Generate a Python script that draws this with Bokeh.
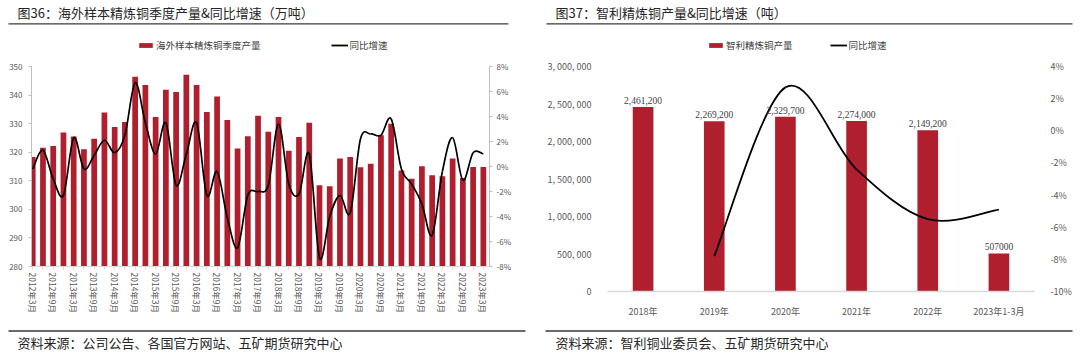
import math
from bokeh.plotting import figure
from bokeh.models import (ColumnDataSource, Range1d, LinearAxis, FixedTicker,
                          PrintfTickFormatter, Label, BoxAnnotation, Legend,
                          LegendItem, LabelSet)
from bokeh.layouts import row, column
from bokeh.embed import file_html
from bokeh.resources import INLINE

FONT = "Noto Sans CJK SC"
BAR_COLOR = "#B01F2D"
TXT = "#404040"
AX_TXT = "#595959"
W = 540
HEAD_H = 58
FOOT_H = 34
CHART_H = 354 - HEAD_H - FOOT_H

# ---------------- 图36 data ----------------
quarters_36 = [f"{y}年{m}月" for y in range(2012, 2024) for m in (3, 6, 9, 12)][:45]
output_36 = [318.3, 321.6, 322.2, 326.9, 325.5, 321.0, 324.7, 333.9, 328.8, 330.6,
             346.4, 343.5, 332.3, 341.9, 341.1, 347.1, 343.5, 334.1, 339.5, 331.3,
             321.3, 325.6, 332.8, 327.2, 332.3, 320.5, 325.3, 330.3, 308.4, 308.1,
             317.8, 318.3, 314.7, 316.0, 325.9, 330.0, 313.6, 310.7, 315.1, 311.9,
             311.6, 317.8, 311.0, 314.8, 314.8]
yoy_36 = [-0.2, 1.3, -1.0, -2.3, 2.3, -0.2, 0.9, 2.1, 1.1, 2.5,
          6.7, 3.5, 1.0, 3.5, -1.5, 1.0, 3.5, -2.3, -0.4, -4.1,
          -6.5, -2.3, -2.0, -1.5, 3.4, -1.4, -2.2, 1.0, -7.3, -4.0,
          -2.3, -3.7, 2.2, 2.6, 2.5, 3.8, -0.2, -1.4, -3.0, -5.5,
          -0.4, 2.3, -1.1, 1.1, 1.0]
left_ticks_36 = [280, 290, 300, 310, 320, 330, 340, 350]
right_ticks_36 = [-8, -6, -4, -2, 0, 2, 4, 6, 8]

# ---------------- 图37 data ----------------
years_37 = ["2018年", "2019年", "2020年", "2021年", "2022年", "2023年1-3月"]
output_37 = [2461200, 2269200, 2329700, 2274000, 2149200, 507000]
yoy_37 = [None, -7.8, 2.7, -2.4, -5.5, -4.9]
left_ticks_37 = [0, 500000, 1000000, 1500000, 2000000, 2500000, 3000000]
right_ticks_37 = [-10, -8, -6, -4, -2, 0, 2, 4]


def smooth_segments(xs, ys):
    """Bezier segments through the data points (Excel-like smoothed line)."""
    pts = [(x, y) for x, y in zip(xs, ys) if y is not None]
    n = len(pts)
    d = dict(x0=[], y0=[], x1=[], y1=[], cx0=[], cy0=[], cx1=[], cy1=[])
    for i in range(n - 1):
        p0 = pts[max(i - 1, 0)]
        p1 = pts[i]
        p2 = pts[i + 1]
        p3 = pts[min(i + 2, n - 1)]
        d["x0"].append(p1[0]); d["y0"].append(p1[1])
        d["x1"].append(p2[0]); d["y1"].append(p2[1])
        d["cx0"].append(p1[0] + (p2[0] - p0[0]) / 6.0)
        d["cy0"].append(p1[1] + (p2[1] - p0[1]) / 6.0)
        d["cx1"].append(p2[0] - (p3[0] - p1[0]) / 6.0)
        d["cy1"].append(p2[1] - (p3[1] - p1[1]) / 6.0)
    return d


def blank_fig(h):
    f = figure(width=W, height=h, x_range=Range1d(0, W), y_range=Range1d(h, 0),
               output_backend="svg", toolbar_location=None, title=None,
               x_axis_location=None, y_axis_location=None,
               min_border_left=0, min_border_right=0, min_border_top=0, min_border_bottom=0)
    f.xgrid.visible = False
    f.ygrid.visible = False
    f.outline_line_color = None
    f.background_fill_color = "white"
    f.border_fill_color = "white"
    return f


def rule(f, x0, x1, y):
    f.add_layout(BoxAnnotation(left=x0, right=x1, top=y - 0.65, bottom=y + 0.65,
                               fill_color="#3a3a3a", fill_alpha=1.0, line_color=None))


def header(title, text_x, rule_x0, rule_x1, legend_labels, legend_x, spacing, src_bar, src_line):
    f = blank_fig(HEAD_H)
    f.add_layout(Label(x=text_x, y=12, text=title, text_font=FONT, text_font_size="13px",
                       text_color="#262626", text_baseline="middle", text_align="left"))
    rule(f, rule_x0, rule_x1, 23.3)
    # legend keys: the same series, styled as in the chart, mapped to an off-view range
    f.extra_y_ranges = {"off": Range1d(1e9, 1e9 + 1)}
    r_bar = f.vbar(x="x", top="v", bottom=0, width=0.5, source=src_bar,
                   fill_color=BAR_COLOR, line_color=None, y_range_name="off")
    r_line = f.line(x="x", y="y", source=src_line, line_color="black", line_width=1.8,
                    y_range_name="off")
    lg = Legend(items=[LegendItem(label=legend_labels[0], renderers=[r_bar]),
                       LegendItem(label=legend_labels[1], renderers=[r_line])],
                orientation="horizontal", location=(legend_x, HEAD_H - 52),
                label_text_font=FONT, label_text_font_size="9.5px", label_text_color=TXT,
                glyph_width=17, glyph_height=6, label_standoff=2, spacing=spacing,
                padding=0, margin=0, border_line_color=None, background_fill_alpha=0,
                label_height=12)
    f.add_layout(lg, "center")
    return f


def footer(text, text_x, rule_x0, rule_x1):
    f = blank_fig(FOOT_H)
    top = 354 - FOOT_H
    rule(f, rule_x0, rule_x1, 330.5 - top)
    f.add_layout(Label(x=text_x, y=342 - top, text=text, text_font=FONT, text_font_size="13px",
                       text_color="#262626", text_baseline="middle", text_align="left"))
    return f


# ======================= 图36 =======================
xs36 = list(range(1, len(quarters_36) + 1))
src36 = ColumnDataSource(dict(x=xs36, q=quarters_36, v=output_36))
line_src36 = ColumnDataSource(dict(x=xs36, y=yoy_36))
p1 = figure(width=W, height=CHART_H, x_range=Range1d(0.88, 45.6), y_range=Range1d(280, 350),
            output_backend="svg", toolbar_location=None, title=None,
            min_border_left=31, min_border_right=51, min_border_top=66 - HEAD_H,
            min_border_bottom=(354 - FOOT_H) - 266)
p1.extra_y_ranges = {"pct": Range1d(-8, 8)}
bars36 = p1.vbar(x="x", top="v", bottom=280, width=0.56, source=src36,
                 fill_color=BAR_COLOR, line_color=None)
line36 = p1.bezier(source=ColumnDataSource(smooth_segments(xs36, yoy_36)),
                   x0="x0", y0="y0", x1="x1", y1="y1", cx0="cx0", cy0="cy0", cx1="cx1", cy1="cy1",
                   line_color="black", line_width=1.7, y_range_name="pct")
ax_r36 = LinearAxis(y_range_name="pct")
p1.add_layout(ax_r36, "right")

p1.xgrid.visible = False
p1.ygrid.visible = False
p1.outline_line_color = None
p1.background_fill_color = None
p1.border_fill_color = "white"

xa = p1.xaxis[0]
xa.ticker = FixedTicker(ticks=xs36)
xa.major_label_overrides = {i: (q if q.endswith("3月") or q.endswith("9月") else "")
                            for i, q in zip(xs36, quarters_36)}
xa.major_label_orientation = -math.pi / 2
xa.axis_line_color = "#d9d9d9"
xa.major_tick_line_color = "#d9d9d9"
xa.major_tick_out = 3
xa.major_tick_in = 0
xa.minor_tick_line_color = None
xa.major_label_standoff = 3
xa.major_label_text_font = FONT
xa.major_label_text_font_size = "8.5px"
xa.major_label_text_color = AX_TXT

ya = p1.yaxis[0]
ya.ticker = FixedTicker(ticks=left_ticks_36)
for a in (ya, ax_r36):
    a.axis_line_color = "#bfbfbf"
    a.major_tick_line_color = "#bfbfbf"
    a.major_tick_out = 3
    a.major_tick_in = 0
    a.minor_tick_line_color = None
    a.major_label_text_font = FONT
    a.major_label_text_font_size = "8px"
    a.major_label_text_color = AX_TXT
ya.major_label_standoff = 6
ax_r36.ticker = FixedTicker(ticks=right_ticks_36)
ax_r36.formatter = PrintfTickFormatter(format="%d%%")
ax_r36.major_label_standoff = 4

h1 = header("图36：海外样本精炼铜季度产量&同比增速（万吨）", 17, 8, 508,
            ["海外样本精炼铜季度产量", "同比增速"], 137, 70, src36, line_src36)
f1 = footer("资料来源：公司公告、各国官方网站、五矿期货研究中心", 17, 8, 525)

# ======================= 图37 =======================
xs37 = [i + 0.5 for i in range(len(years_37))]
labels_37 = [f"{v:,}" for v in output_37[:-1]] + [str(output_37[-1])]
src37 = ColumnDataSource(dict(x=xs37, v=output_37, lab=labels_37))
line_src37 = ColumnDataSource(dict(x=xs37[1:], y=yoy_37[1:]))
p2 = figure(width=W, height=CHART_H, x_range=Range1d(0, 6), y_range=Range1d(0, 3000000),
            output_backend="svg", toolbar_location=None, title=None,
            min_border_left=67, min_border_right=46, min_border_top=66 - HEAD_H,
            min_border_bottom=(354 - FOOT_H) - 299)
p2.extra_y_ranges = {"pct": Range1d(-10, 4)}
bars37 = p2.vbar(x="x", top="v", bottom=0, width=0.29, source=src37,
                 fill_color=BAR_COLOR, line_color=None)
line37 = p2.bezier(source=ColumnDataSource(smooth_segments(xs37, yoy_37)),
                   x0="x0", y0="y0", x1="x1", y1="y1", cx0="cx0", cy0="cy0", cx1="cx1", cy1="cy1",
                   line_color="black", line_width=1.8, y_range_name="pct")
p2.add_layout(LabelSet(x="x", y="v", text="lab", source=src37, y_offset=3,
                       text_align="center", text_baseline="bottom", text_font=FONT,
                       text_font_size="9.5px", text_color=TXT))
ax_r37 = LinearAxis(y_range_name="pct")
p2.add_layout(ax_r37, "right")

p2.xgrid.visible = False
p2.ygrid.visible = False
p2.outline_line_color = None
p2.background_fill_color = None
p2.border_fill_color = "white"

xb = p2.xaxis[0]
xb.ticker = FixedTicker(ticks=xs37)
xb.major_label_overrides = {x: y for x, y in zip(xs37, years_37)}
xb.axis_line_color = "#d9d9d9"
xb.axis_line_width = 1.5
xb.major_tick_line_color = None
xb.minor_tick_line_color = None
xb.major_label_standoff = 7
xb.major_label_text_font = FONT
xb.major_label_text_font_size = "9px"
xb.major_label_text_color = AX_TXT

yb = p2.yaxis[0]
yb.ticker = FixedTicker(ticks=left_ticks_37)
yb.major_label_overrides = {t: f"{t:,}".replace(",", ", ") for t in left_ticks_37}
ax_r37.ticker = FixedTicker(ticks=right_ticks_37)
ax_r37.formatter = PrintfTickFormatter(format="%d%%")
for a in (yb, ax_r37):
    a.axis_line_color = None
    a.major_tick_line_color = None
    a.minor_tick_line_color = None
    a.major_label_text_font = FONT
    a.major_label_text_font_size = "9px"
    a.major_label_text_color = AX_TXT
yb.major_label_standoff = 10
ax_r37.major_label_standoff = 10

h2 = header("图37：智利精炼铜产量&同比增速（吨）", 15, 6, 532,
            ["智利精炼铜产量", "同比增速"], 707 - 540, 37, src37, line_src37)
f2 = footer("资料来源：智利铜业委员会、五矿期货研究中心", 15, 5, 532)

layout = row(column(row(h1), p1, row(f1), spacing=0),
             column(row(h2), p2, row(f2), spacing=0), spacing=0)
open("out.html", "w").write(file_html(layout, INLINE))
